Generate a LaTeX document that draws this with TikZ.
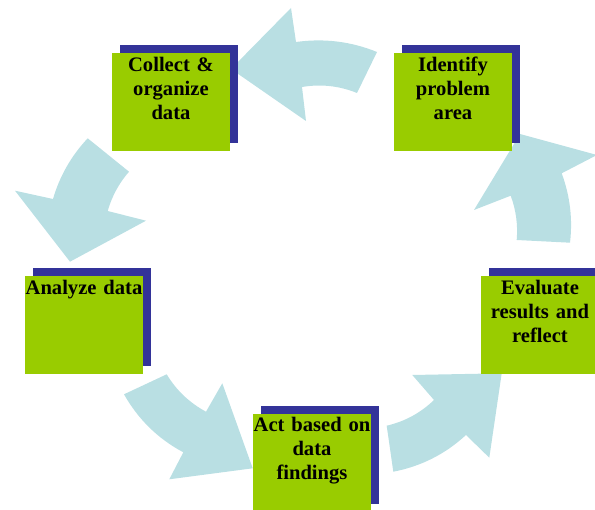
\documentclass[tikz,border=0pt]{standalone}
\usepackage{fontspec}
\setmainfont{Liberation Serif}
\definecolor{arrowblue}{RGB}{185,223,227}
\definecolor{boxgreen}{RGB}{153,204,0}
\definecolor{shadowblue}{RGB}{51,51,153}
\begin{document}
\begin{tikzpicture}[x=1pt,y=-1pt,
  cyc/.style={fill=arrowblue,draw=none},
  shadowbox/.style={fill=shadowblue,draw=none,minimum width=118pt,minimum height=98pt,inner sep=0pt,outer sep=0pt},
  greenbox/.style={fill=boxgreen,draw=none,minimum width=118pt,minimum height=98pt,inner sep=0pt,outer sep=0pt},
  lbl/.style={font=\fontsize{20.6}{24}\selectfont\bfseries,text width=118pt,align=center,inner sep=0pt,anchor=base}]
\useasboundingbox (0,0) rectangle (595,510);
\clip (0,0) rectangle (595,510);
% arrows
\fill[cyc] (377,52) .. controls (350.9,41.4) and (323.9,38.1) .. (296,42) -- (291,8) -- (231,69) -- (306,121) -- (302,87) .. controls (320.9,83.8) and (339.2,85.8) .. (357,93) -- cycle;
\fill[cyc] (87.7,138.3) .. controls (71.3,155.8) and (59.7,176) .. (53,199) -- (15,190.7) -- (70,261.7) -- (146,220.7) -- (107.7,211) .. controls (111.9,196.3) and (119,183.2) .. (129,171.7) -- cycle;
\fill[cyc] (124,394.3) .. controls (138.2,419.4) and (157.9,438.7) .. (183.3,452.3) -- (169.3,479.3) -- (252.7,468.3) -- (222.3,383.3) -- (206,411.7) .. controls (189.5,402.8) and (176.4,390.4) .. (166.7,374.3) -- cycle;
\fill[cyc] (393.3,471.7) .. controls (421,466.4) and (445.3,454.1) .. (466,435) -- (489.3,457.7) -- (501.7,373.3) -- (412.3,375) -- (434,400) .. controls (420.6,412.9) and (404.8,421.5) .. (386.7,425.7) -- cycle;
\fill[cyc] (570,242.7) .. controls (572.8,218.9) and (570,195.8) .. (561.7,173.3) -- (597,155) -- (520,134) -- (474,210) -- (510.7,195.7) .. controls (516,210) and (518,224.8) .. (516.7,240) -- cycle;
% shadows
\node[shadowbox] (s1) at (179,94) {};
\node[shadowbox] (s2) at (461,94) {};
\node[shadowbox] (s3) at (92,317) {};
\node[shadowbox] (s4) at (320,455) {};
\node[shadowbox] (s5) at (548,317) {};
% green boxes
\node[greenbox] (g1) at (171,102) {};
\node[greenbox] (g2) at (453,102) {};
\node[greenbox] (g3) at (84,325) {};
\node[greenbox] (g4) at (312,463) {};
\node[greenbox] (g5) at (540,325) {};
% labels
\node[lbl] (t1) at (171,72) {Collect \&\\organize\\data};
\node[lbl] (t2) at (453,72) {Identify\\problem\\area};
\node[lbl] (t3) at (84,295) {Analyze data};
\node[lbl] (t4) at (312,432) {Act based on\\data\\findings};
\node[lbl] (t5) at (540,295) {Evaluate\\results and\\reflect};
\end{tikzpicture}
\end{document}
